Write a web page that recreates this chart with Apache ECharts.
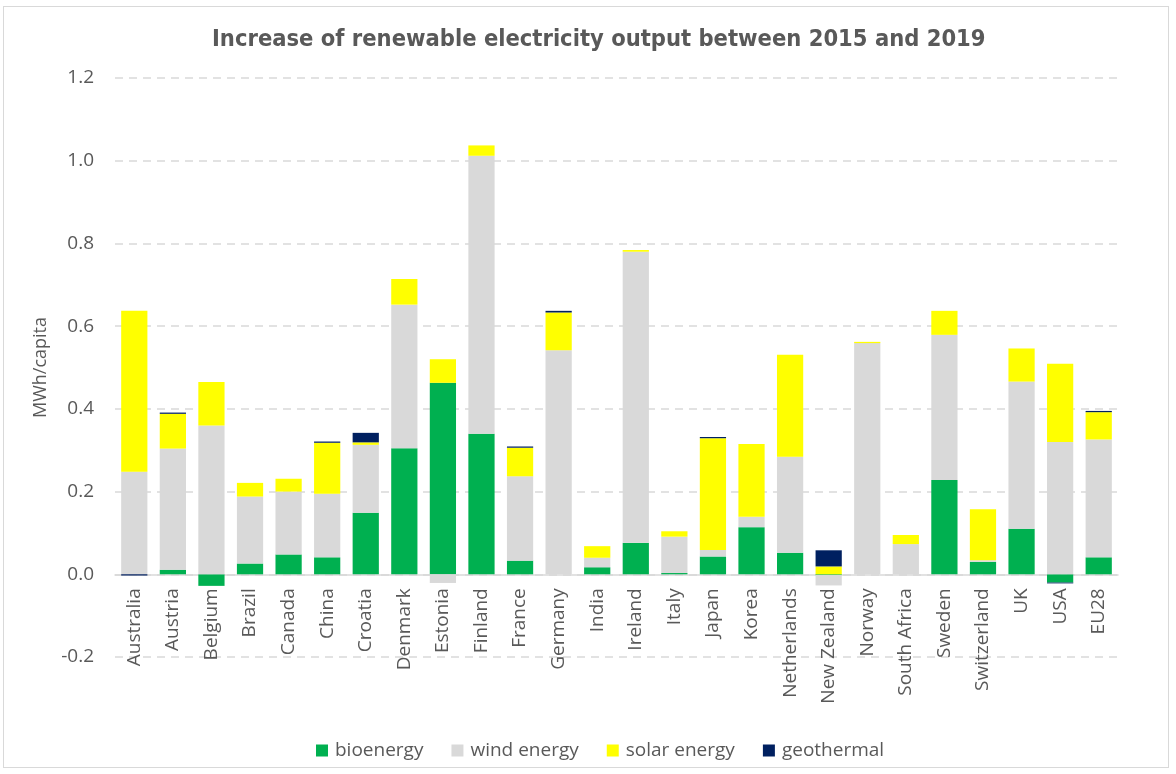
<!DOCTYPE html>
<html>
<head>
<meta charset="utf-8">
<script src="https://cdn.jsdelivr.net/npm/echarts@6/dist/echarts.min.js"></script>
<style>
html,body{margin:0;padding:0;background:#fff;}
#frame{position:absolute;left:3px;top:6px;width:1166px;height:762px;border:1px solid #d9d9d9;box-sizing:border-box;}
#chart{position:absolute;left:0;top:0;width:1176px;height:774px;}
</style>
</head>
<body>
<div id="frame"></div>
<div id="chart"></div>
<script>
const categories = ["Australia","Austria","Belgium","Brazil","Canada","China","Croatia","Denmark","Estonia","Finland","France","Germany","India","Ireland","Italy","Japan","Korea","Netherlands","New Zealand","Norway","South Africa","Sweden","Switzerland","UK","USA","EU28"];
const bioenergy = [0, 0.011, -0.028, 0.026, 0.048, 0.041, 0.149, 0.305, 0.463, 0.340, 0.033, 0, 0.017, 0.076, 0.003, 0.043, 0.114, 0.052, -0.002, 0, 0, 0.228, 0.030, 0.110, -0.020, 0.041];
const windEnergy = [0.248, 0.293, 0.360, 0.162, 0.152, 0.154, 0.164, 0.347, -0.021, 0.672, 0.204, 0.542, 0.023, 0.704, 0.088, 0.016, 0.025, 0.232, -0.025, 0.559, 0.073, 0.351, 0.004, 0.356, 0.320, 0.285];
const solarEnergy = [0.389, 0.084, 0.105, 0.033, 0.031, 0.123, 0.006, 0.062, 0.057, 0.025, 0.069, 0.091, 0.028, 0.004, 0.013, 0.270, 0.176, 0.247, 0.019, 0.003, 0.022, 0.058, 0.123, 0.080, 0.189, 0.066];
const geothermal = [-0.003, 0.003, 0, 0, 0, 0.003, 0.023, 0, 0, 0, 0.003, 0.004, 0, 0, 0, 0.003, 0, 0, 0.039, 0, 0, 0, 0, 0, -0.002, 0.003];
const yTicks = { min: -0.2, max: 1.2, interval: 0.2 };

const gridTop = 78, gridBottomPx = 657;
const zeroOffset = (gridBottomPx - gridTop) * (0 - yTicks.min) / (yTicks.max - yTicks.min);

const chart = echarts.init(document.getElementById('chart'), null, {renderer:'canvas'});
const textColor = '#595959';
function mk(name, data, color){
  return {name, type:'bar', stack:'total', data, barCategoryGap:'32%',
    itemStyle:{color}, emphasis:{disabled:true}};
}
chart.setOption({
  animation:false,
  title:{text:'Increase of renewable electricity output between 2015 and 2019', left:207, top:23,
    textStyle:{fontFamily:'"Liberation Sans Narrow","DejaVu Sans Condensed",sans-serif', fontWeight:'bold', fontSize:23.5, color:textColor}},
  legend:{top:736, left:311, itemWidth:12, itemHeight:12, itemGap:28,
    icon:'rect',
    textStyle:{fontFamily:'"Open Sans",sans-serif', fontSize:19, color:textColor, padding:[0,0,0,2]},
    data:['bioenergy','wind energy','solar energy','geothermal']},
  grid:{left:115, right:58, top:gridTop, bottom:774 - gridBottomPx, containLabel:false},
  xAxis:{type:'category', data:categories,
    offset: -zeroOffset,
    axisLine:{onZero:false, lineStyle:{color:'#d9d9d9', width:1.5}},
    axisTick:{show:false},
    axisLabel:{rotate:90, interval:0, fontFamily:'"Open Sans",sans-serif', fontSize:19, color:textColor, margin:14}},
  yAxis:{type:'value', min:yTicks.min, max:yTicks.max, interval:yTicks.interval,
    name:'MWh/capita', nameLocation:'middle', nameGap:63, nameRotate:90,
    nameTextStyle:{fontFamily:'"Open Sans",sans-serif', fontSize:18, color:textColor},
    axisLine:{show:false}, axisTick:{show:false},
    axisLabel:{fontFamily:'"Open Sans",sans-serif', fontSize:19, color:textColor, margin:21,
      formatter:v=>v.toFixed(1)},
    splitLine:{lineStyle:{color:'#d9d9d9', type:[8,6], width:1.5}}},
  series:[
    mk('bioenergy', bioenergy, '#00B050'),
    mk('wind energy', windEnergy, '#D9D9D9'),
    mk('solar energy', solarEnergy, '#FFFF00'),
    mk('geothermal', geothermal, '#002060')
  ]
});
</script>
</body>
</html>
